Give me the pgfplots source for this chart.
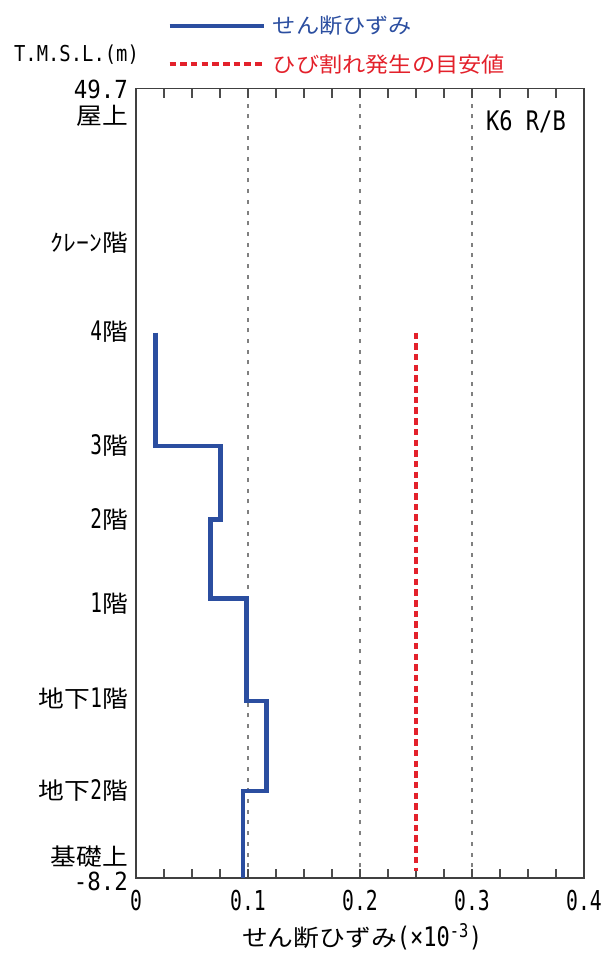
\documentclass[border=0pt]{standalone}
\usepackage{fontspec}
\usepackage{pgfplots}
\pgfplotsset{compat=1.18}
\setmainfont[FakeStretch=1.1]{Noto Sans CJK JP}
\newfontfamily\monoA[FakeStretch=0.72]{DejaVu Sans Mono}
\newfontfamily\monoB[FakeStretch=0.82]{DejaVu Sans Mono}
\newfontfamily\monoC[FakeStretch=0.9]{DejaVu Sans Mono}
\newfontfamily\monoD[FakeStretch=0.86]{DejaVu Sans Mono}
\definecolor{sblue}{HTML}{2B4EA0}
\definecolor{sred}{HTML}{E3212B}
\newcommand\jp{\fontsize{23.5}{26}\selectfont}
\newcommand\jl{\fontsize{21.2}{24}\selectfont}
\newcommand\dg[1]{{\monoA\fontsize{27}{27}\selectfont #1}}
\begin{document}
\begin{tikzpicture}
\path[use as bounding box] (0bp,0bp) rectangle (610bp,954bp);
\begin{axis}[
  at={(136bp,76bp)}, anchor=south west,
  scale only axis, width=448bp, height=789.5bp,
  xmin=0, xmax=0.4, ymin=-8.2, ymax=49.7,
  axis line style={draw=black!75, line width=1.3bp},
  xtick={0,0.1,0.2,0.3,0.4},
  xticklabels={0,0.1,0.2,0.3,0.4},
  minor x tick num=3,
  xtick align=inside,
  major tick length=0.32cm, minor tick length=0.32cm,
  every tick/.append style={draw=black!70, line width=1.1bp},
  xticklabel style={font=\monoA\fontsize{27.5}{28}\selectfont, inner sep=0pt, anchor=north, yshift=-12bp},
  xmajorgrids,
  major grid style={draw=black!50, line width=1.2bp, dash pattern=on 4bp off 6.7bp},
  ytick=\empty,
  xlabel={せん断ひずみ{\monoB\fontsize{27}{27}\selectfont (×10\textsuperscript{-3})}},
  every axis x label/.style={at={(axis description cs:0.505,-0.074)}, anchor=center, font=\jp},
  legend cell align=left,
  legend image code/.code={\draw[#1, line cap=butt] (0bp,0bp) -- (94bp,0bp);},
  legend style={draw=none, fill=none, inner sep=0pt, at={(0.0692,1.055)}, anchor=west,
    row sep=19bp, nodes={inner sep=0pt, anchor=west}, font=\jl,
    /tikz/every odd column/.append style={column sep=7bp}},
  clip=false,
]
\addplot[sblue, line width=4.3bp, line join=miter] coordinates {
  (0.0174,31.8) (0.0174,23.5) (0.0754,23.5) (0.0754,18.1) (0.0665,18.1)
  (0.0665,12.3) (0.0987,12.3) (0.0987,4.8) (0.1165,4.8) (0.1165,-1.8)
  (0.0958,-1.8) (0.0958,-8.2)};
\addlegendentry{\textcolor{sblue}{せん断ひずみ}}
\addplot[sred, line width=4.6bp, dash pattern=on 6.5bp off 4.2bp] coordinates {
  (0.25,31.8) (0.25,-7.7)};
\addlegendentry{\textcolor{sred}{ひび割れ発生の目安値}}
\begin{scope}[every node/.style={anchor=east, inner sep=0pt, font=\jp, xshift=-8bp}]
\node at (axis cs:0,38.4) {ｸﾚｰﾝ階};
\node at (axis cs:0,31.85) {\dg{4}階};
\node at (axis cs:0,23.55) {\dg{3}階};
\node at (axis cs:0,18.1) {\dg{2}階};
\node at (axis cs:0,11.9) {\dg{1}階};
\node at (axis cs:0,4.95) {地下\dg{1}階};
\node at (axis cs:0,-1.8) {地下\dg{2}階};
\end{scope}
\end{axis}
\node[anchor=east, inner sep=0pt, font=\monoC\fontsize{25}{25}\selectfont] at (128bp,864.5bp) {49.7};
\node[anchor=east, inner sep=0pt, font=\jp] at (128bp,838bp) {屋上};
\node[anchor=east, inner sep=0pt, font=\jp] at (128bp,97.5bp) {基礎上};
\node[anchor=east, inner sep=0pt, font=\monoC\fontsize{25}{25}\selectfont] at (128bp,73bp) {-8.2};
\node[anchor=east, inner sep=0pt, font=\monoB\fontsize{27}{27}\selectfont] at (566bp,832.3bp) {K6 R/B};
\node[inner sep=0pt, font=\monoD\fontsize{22}{22}\selectfont] at (76.5bp,899bp) {T.M.S.L.(m)};
\end{tikzpicture}
\end{document}
